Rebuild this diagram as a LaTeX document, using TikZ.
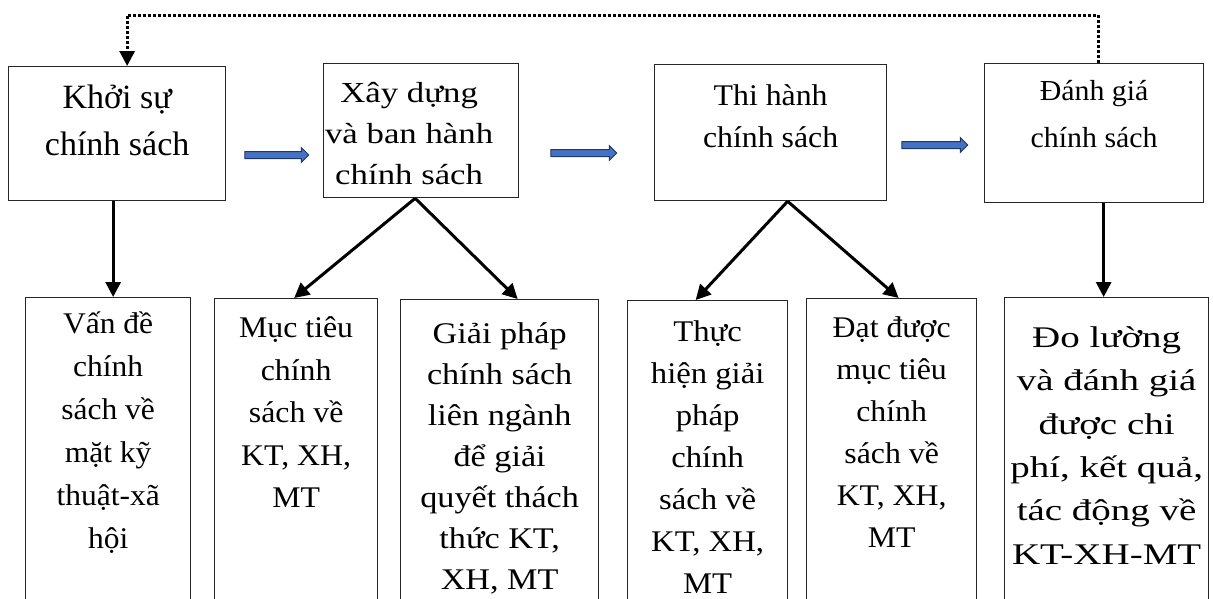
\documentclass[tikz,border=0pt]{standalone}
\usepackage{fontspec}
\setmainfont{Liberation Serif}
\usetikzlibrary{arrows.meta,shapes.arrows,calc}
\definecolor{xanh}{RGB}{68,114,196}
\definecolor{xanhdam}{RGB}{32,56,100}
\tikzset{
	hop/.style={draw=black!85, line width=1.3pt, rectangle, inner sep=0pt, anchor=north west},
	chu/.style={align=center, inner sep=0pt, anchor=north},
	chutren/.style n args={3}{chu, font=\fontsize{#1}{#2}\selectfont\addfontfeature{FakeStretch=#3}},
	chuduoi/.style 2 args={chu, font=\fontsize{30}{#1}\selectfont\addfontfeature{FakeStretch=#2}},
	muiten/.style={line width=3pt, -{Triangle[length=15pt,width=15pt]}},
	muixanh/.style={single arrow, draw=xanhdam, fill=xanh, line width=1pt, inner sep=3pt,
		single arrow head extend=4pt, minimum height=64pt}
}

\begin{document}
\begin{tikzpicture}[x=1pt, y=-1pt]
			%%%%% START %%%%%
			\useasboundingbox (0,0) rectangle (1213,598);
			\clip (0,0) rectangle (1213,598);
			
			% hang tren
			\node[hop, minimum width=217pt, minimum height=134pt] (khoi) at (8,66) {};
			\node[hop, minimum width=195pt, minimum height=134pt] (xaydung) at (323,63) {};
			\node[hop, minimum width=232pt, minimum height=136pt] (thihanh) at (654,64) {};
			\node[hop, minimum width=219pt, minimum height=139pt] (danhgia) at (984,63) {};
			
			\node[chutren={34}{47}{1.0}] (tkhoi) at ([yshift=-9]khoi.north) {\strut Khởi sự\\chính sách};
			\node[chutren={29}{41}{1.2}] (txaydung) at ([xshift=-12,yshift=-11]xaydung.north) {\strut Xây dựng\\và ban hành\\chính sách};
			\node[chutren={30}{42}{1.06}] (tthihanh) at ([yshift=-12]thihanh.north) {\strut Thi hành\\chính sách};
			\node[chutren={29}{47}{1.03}] (tdanhgia) at ([yshift=-4]danhgia.north) {\strut Đánh giá\\chính sách};
			
			% mui ten xanh
			\node[muixanh] (mx1) at (275,155) {};
			\node[muixanh, minimum height=66pt] (mx2) at (582,153) {};
			\node[muixanh, minimum height=66pt] (mx3) at (933,145) {};
			
			% hang duoi
			\node[hop, minimum width=165pt, minimum height=340pt] (vande) at (25,297) {};
			\node[hop, minimum width=163pt, minimum height=340pt] (muctieu) at (214,298) {};
			\node[hop, minimum width=198pt, minimum height=340pt] (giaiphap) at (400,299) {};
			\node[hop, minimum width=160pt, minimum height=340pt] (thuchien) at (627,300) {};
			\node[hop, minimum width=170pt, minimum height=340pt] (datduoc) at (806,298) {};
			\node[hop, minimum width=204pt, minimum height=340pt] (dolg) at (1004,297) {};
			
			\node[chuduoi={43}{1.05}] (tvande) at ([yshift=-6]vande.north) {\strut Vấn đề\\chính\\sách về\\mặt kỹ\\thuật-xã\\hội};
			\node[chuduoi={42.5}{1.06}] (tmuctieu) at ([yshift=-10]muctieu.north) {\strut Mục tiêu\\chính\\sách về\\KT, XH,\\MT};
			\node[chuduoi={41}{1.14}] (tgiaiphap) at ([yshift=-16]giaiphap.north) {\strut Giải pháp\\chính sách\\liên ngành\\để giải\\quyết thách\\thức KT,\\XH, MT};
			\node[chuduoi={42}{1.09}] (tthuchien) at ([yshift=-12]thuchien.north) {\strut Thực\\hiện giải\\pháp\\chính\\sách về\\KT, XH,\\MT};
			\node[chuduoi={42}{1.06}] (tdatduoc) at ([yshift=-10]datduoc.north) {\strut Đạt được\\mục tiêu\\chính\\sách về\\KT, XH,\\MT};
			\node[chuduoi={43.3}{1.3}] (tdolg) at ([yshift=-20]dolg.north) {\strut Đo lường\\và đánh giá\\được chi\\phí, kết quả,\\tác động về\\KT-XH-MT};
			
			% mui ten den
			\draw[muiten] ([xshift=5]vande.north |- khoi.south) -- ([xshift=5]vande.north);
			\draw[muiten] ([xshift=-6]xaydung.south) -- ([xshift=-2]muctieu.north);
			\draw[muiten] ([xshift=-6]xaydung.south) -- ([xshift=18]giaiphap.north);
			\draw[muiten] ([xshift=17]thihanh.south) -- ([xshift=-12]thuchien.north);
			\draw[muiten] ([xshift=17]thihanh.south) -- ([xshift=7]datduoc.north);
			\draw[muiten] ([xshift=-3]dolg.north |- danhgia.south) -- ([xshift=-3]dolg.north);
			
			% vong phan hoi
			\coordinate (tren) at (0,15);
			\draw[line width=3pt, dash pattern=on 3pt off 2pt, -{Triangle[length=15pt,width=15pt]}]
				([xshift=4]danhgia.north) |- ([xshift=10]khoi.north |- tren) -- ([xshift=10]khoi.north);
			
			%%%%% END %%%%%
\end{tikzpicture}
\end{document}
